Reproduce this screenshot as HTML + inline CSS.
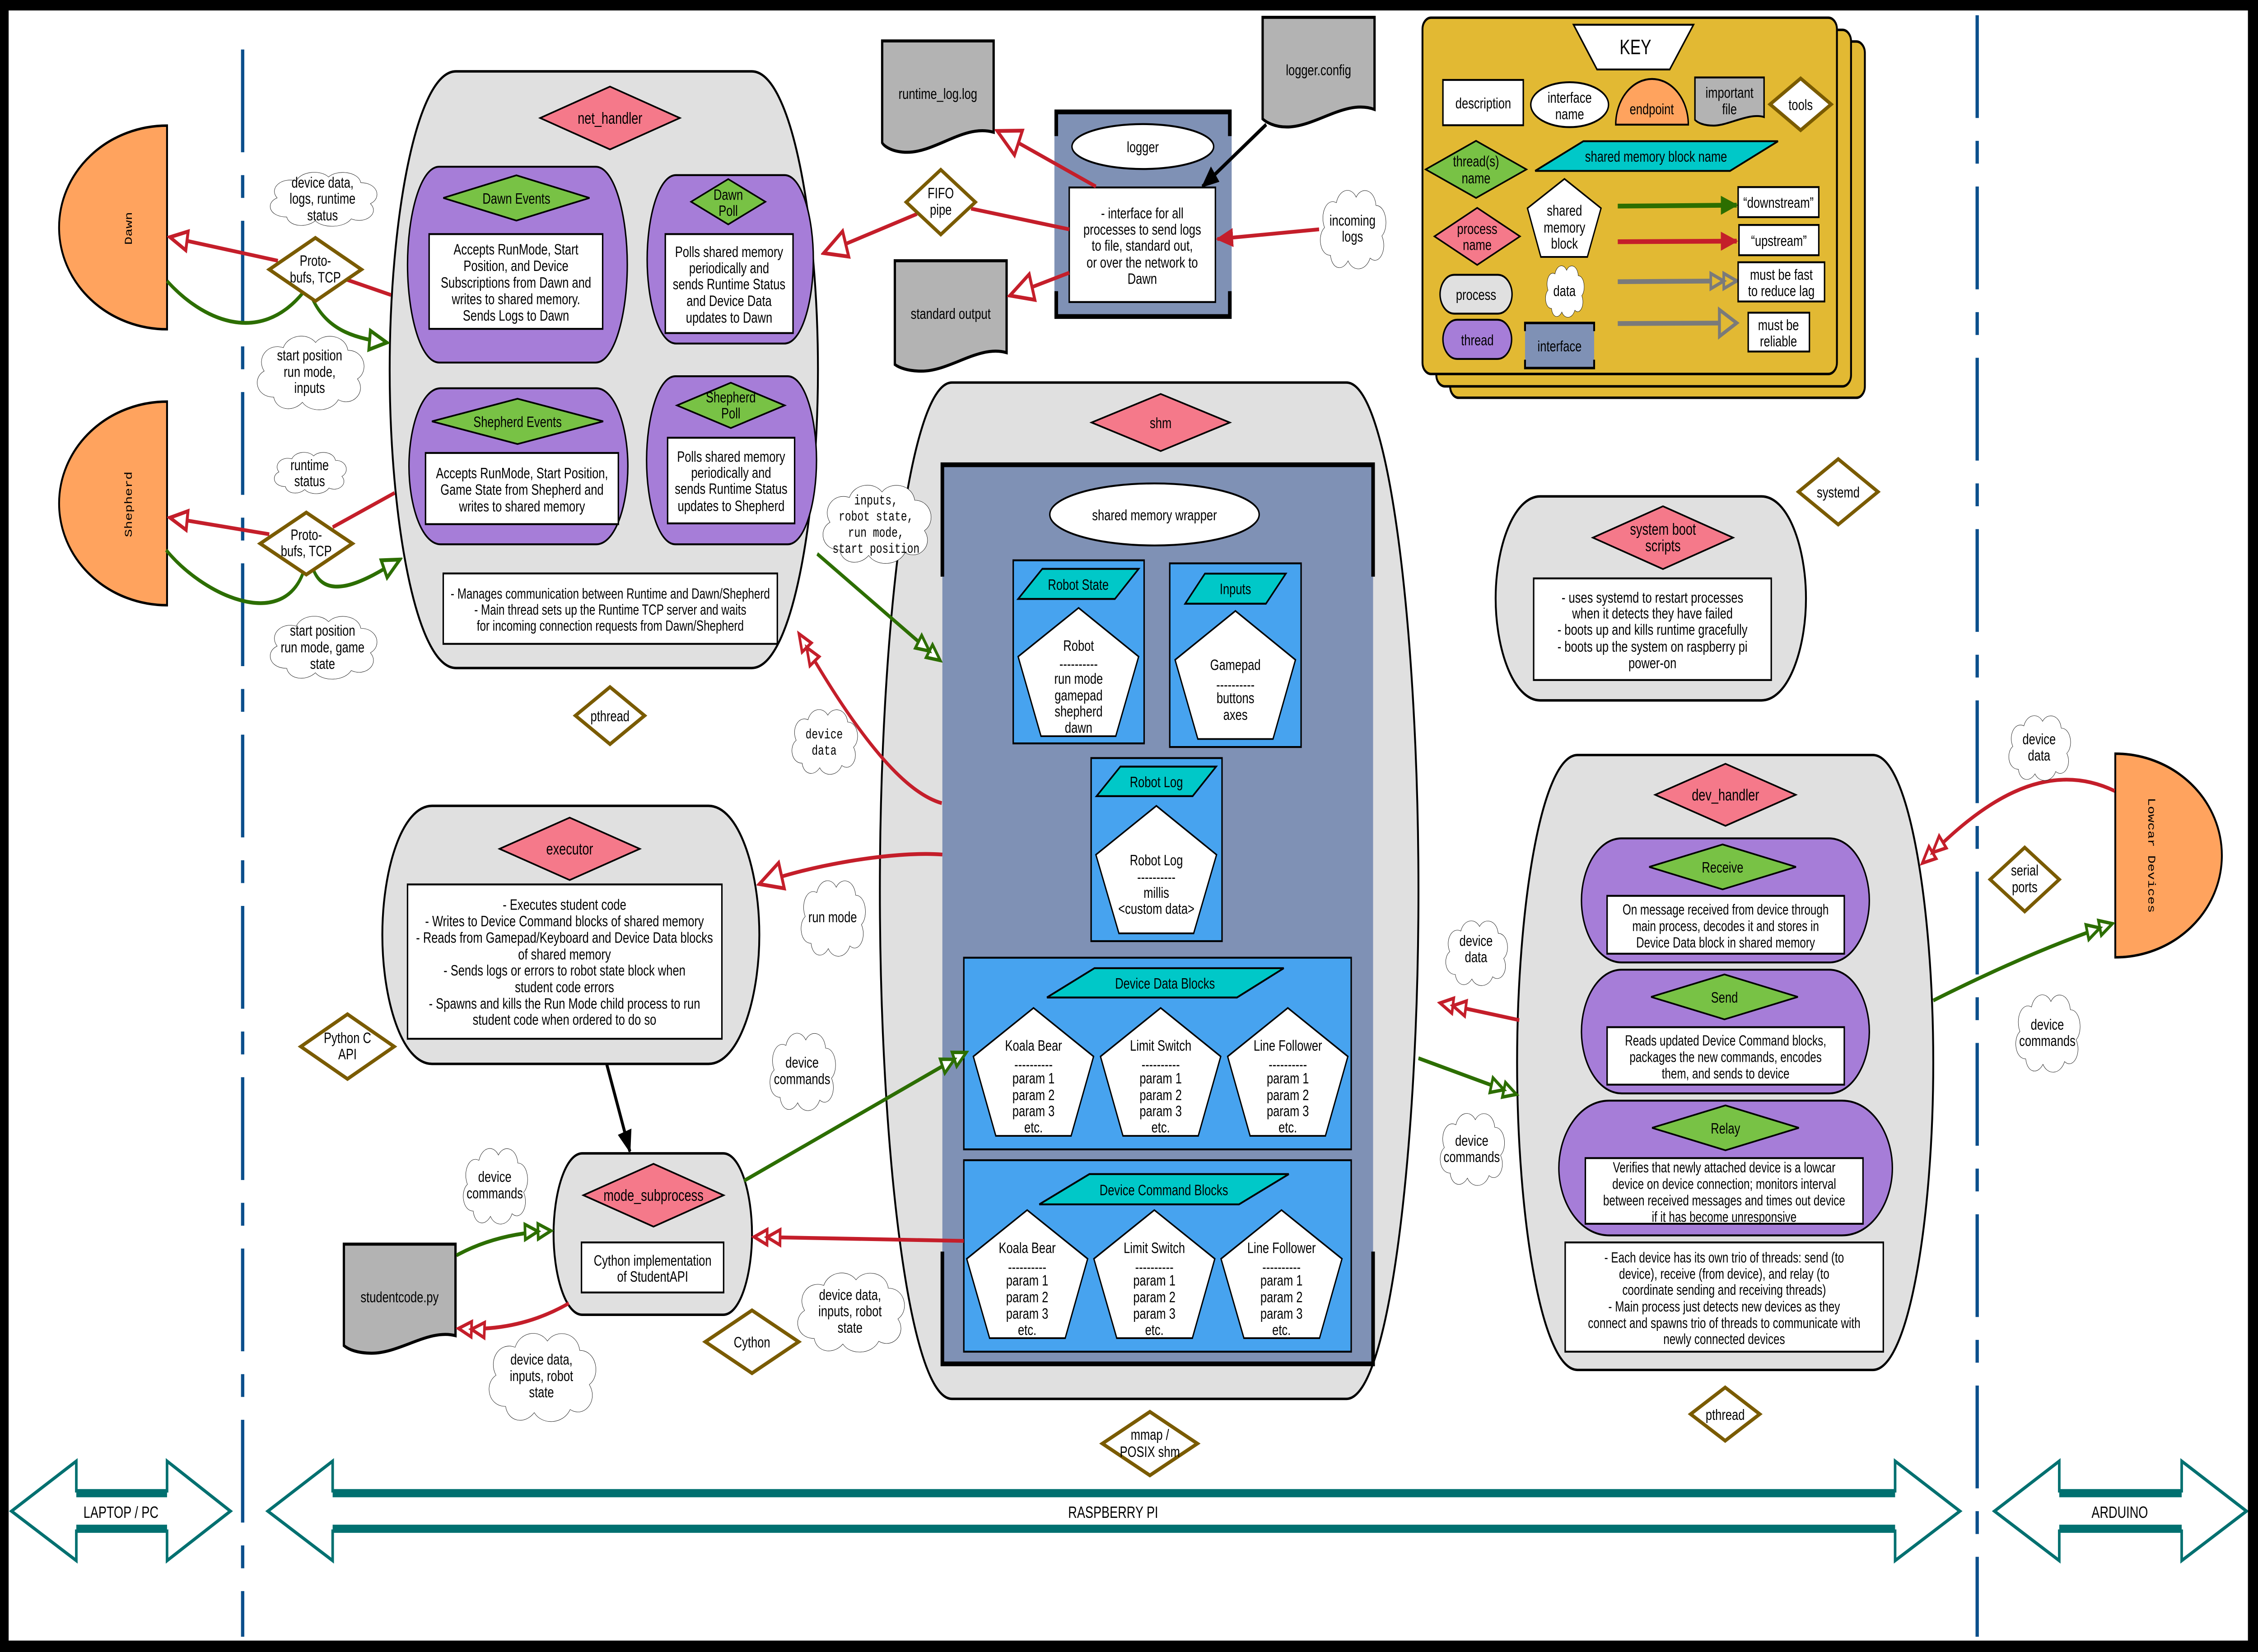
<!DOCTYPE html>
<html><head><meta charset="utf-8">
<style>
html,body{margin:0;padding:0;background:#fff;width:100%;height:100%;overflow:hidden}
svg{display:block;position:fixed;left:0;top:0;width:100%;height:100%}
text{font-family:"Liberation Sans",sans-serif;font-size:8px;text-anchor:middle;fill:#000}
.m{font-family:"Liberation Mono",monospace;font-size:7.2px}
.h{font-size:8.5px}
.d{fill:#fff;stroke:#7a5b00;stroke-width:2}
.pr{fill:#e0e0e0;stroke:#000;stroke-width:1.3}
.th{fill:#a67dd8;stroke:#000;stroke-width:1}
.pk{fill:#f5798a;stroke:#000;stroke-width:0.9}
.gd{fill:#78c245;stroke:#000;stroke-width:0.9}
.bx{fill:#fff;stroke:#000;stroke-width:1}
.bl{fill:#47a3ef;stroke:#000;stroke-width:1}
.cy{fill:#00c8c8;stroke:#000;stroke-width:1}
.pe{fill:#fff;stroke:#000;stroke-width:0.9}
.fl{fill:#b3b3b3;stroke:#000;stroke-width:1.6}
.rd{fill:none;stroke:#c41e2a;stroke-width:2}
.gr{fill:none;stroke:#2c6e00;stroke-width:2}
.bk{fill:none;stroke:#000;stroke-width:2}
.br{fill:none;stroke:#000;stroke-width:2.5}
</style></head>
<body>
<svg xmlns="http://www.w3.org/2000/svg" xmlns:xlink="http://www.w3.org/1999/xlink" viewBox="0 0 1568 868" preserveAspectRatio="none">
<defs>
<path id="cl" d="M20,50 C5,50 2,35 12,30 C5,20 15,8 28,12 C32,2 48,0 55,8 C62,0 80,2 82,14 C96,14 100,30 90,36 C98,46 86,58 74,52 C68,62 50,62 44,54 C36,62 22,60 20,50 Z" fill="#fff" stroke="#000" stroke-width="0.8" vector-effect="non-scaling-stroke"/>
<marker id="hR" markerUnits="userSpaceOnUse" markerWidth="16" markerHeight="14" refX="14" refY="7" orient="auto" viewBox="0 0 16 14"><path d="M2,2 L14,7 L2,12 Z" fill="#fff" stroke="#c41e2a" stroke-width="2"/></marker>
<marker id="hRb" markerUnits="userSpaceOnUse" markerWidth="20" markerHeight="18" refX="18" refY="9" orient="auto" viewBox="0 0 20 18"><path d="M2,2 L18,9 L2,16 Z" fill="#fff" stroke="#c41e2a" stroke-width="2"/></marker>
<marker id="hG" markerUnits="userSpaceOnUse" markerWidth="16" markerHeight="14" refX="14" refY="7" orient="auto" viewBox="0 0 16 14"><path d="M2,2 L14,7 L2,12 Z" fill="#fff" stroke="#2c6e00" stroke-width="2"/></marker>
<marker id="dR" markerUnits="userSpaceOnUse" markerWidth="22" markerHeight="12" refX="20" refY="6" orient="auto" viewBox="0 0 22 12"><path d="M2,2 L11,6 L2,10 Z M11,2 L20,6 L11,10 Z" fill="#fff" stroke="#c41e2a" stroke-width="1.8"/></marker>
<marker id="dG" markerUnits="userSpaceOnUse" markerWidth="22" markerHeight="12" refX="20" refY="6" orient="auto" viewBox="0 0 22 12"><path d="M2,2 L11,6 L2,10 Z M11,2 L20,6 L11,10 Z" fill="#fff" stroke="#2c6e00" stroke-width="1.8"/></marker>
<marker id="dY" markerUnits="userSpaceOnUse" markerWidth="22" markerHeight="12" refX="20" refY="6" orient="auto" viewBox="0 0 22 12"><path d="M2,2 L11,6 L2,10 Z M11,2 L20,6 L11,10 Z" fill="#e2b933" stroke="#7a7a7a" stroke-width="1.8"/></marker>
<marker id="hY" markerUnits="userSpaceOnUse" markerWidth="16" markerHeight="18" refX="14" refY="9" orient="auto" viewBox="0 0 16 18"><path d="M2,2 L14,9 L2,16 Z" fill="#e2b933" stroke="#7a7a7a" stroke-width="2"/></marker>
<marker id="fR" markerUnits="userSpaceOnUse" markerWidth="12" markerHeight="10" refX="11" refY="5" orient="auto" viewBox="0 0 12 10"><path d="M0,0 L12,5 L0,10 Z" fill="#c41e2a"/></marker>
<marker id="fG" markerUnits="userSpaceOnUse" markerWidth="12" markerHeight="10" refX="11" refY="5" orient="auto" viewBox="0 0 12 10"><path d="M0,0 L12,5 L0,10 Z" fill="#2c6e00"/></marker>
<marker id="fK" markerUnits="userSpaceOnUse" markerWidth="12" markerHeight="10" refX="11" refY="5" orient="auto" viewBox="0 0 12 10"><path d="M0,0 L12,5 L0,10 Z" fill="#000"/></marker>
</defs>

<rect x="0" y="0" width="1568" height="868" fill="#fff"/>

<line x1="168.5" y1="26" x2="168.5" y2="860" stroke="#0b4f8c" stroke-width="2.3" stroke-dasharray="54,12,12,12"/>
<line x1="1373" y1="8" x2="1373" y2="860" stroke="#0b4f8c" stroke-width="2.3" stroke-dasharray="54,12,12,12"/>

<!-- KEY -->
<rect x="1007" y="21.8" width="288" height="187.2" rx="6" fill="#e2b933" stroke="#000" stroke-width="1.3"/>
<rect x="997.4" y="15.7" width="288" height="187.3" rx="6" fill="#e2b933" stroke="#000" stroke-width="1.3"/>
<rect x="987.8" y="9.3" width="287.8" height="187.2" rx="6" fill="#e2b933" stroke="#000" stroke-width="1.3"/>
<polygon points="1092.7,13 1176,13 1159.5,36.5 1109,36.5" fill="#fff" stroke="#000" stroke-width="1"/>
<text x="1135.7" y="28.5" style="font-size:11px">KEY</text>
<rect x="1002" y="42" width="55.8" height="23.8" class="bx"/>
<text x="1030" y="57">description</text>
<ellipse cx="1090" cy="55" rx="27" ry="11.8" class="bx"/>
<text x="1090" y="54">interface</text><text x="1090" y="62.7">name</text>
<path d="M1122,65.5 A25.2,24 0 0 1 1172.4,65.5 Z" fill="#ffa35e" stroke="#000" stroke-width="1"/>
<text x="1147" y="60">endpoint</text>
<path d="M1177,40.7 H1225 V61.5 C1215,59 1200,66 1190,66 C1183,66 1179,64.5 1177,63 Z" class="fl" style="stroke-width:1"/>
<text x="1201" y="51.4">important</text><text x="1201" y="60">file</text>
<polygon points="1229.2,54.8 1250.4,41.2 1271.6,54.8 1250.4,68.4" class="d"/>
<text x="1250.4" y="57.8">tools</text>
<polygon points="990,89 1025,74 1060,89 1025,104" class="gd"/>
<text x="1025" y="87.4">thread(s)</text><text x="1025" y="96.3">name</text>
<polygon points="1066,89.8 1099.5,74.2 1234.7,74.2 1201.4,89.8" class="cy"/>
<text x="1150" y="85">shared memory block name</text>
<polygon points="996.1,124.2 1025.8,109.2 1055.5,124.2 1025.8,139.2" class="pk"/>
<text x="1025.8" y="122.9">process</text><text x="1025.8" y="131.4">name</text>
<polygon points="1086.4,94 1111.8,109.4 1102.3,135 1070,135 1060.7,109.4" class="pe"/>
<text x="1086.4" y="113.3">shared</text><text x="1086.4" y="122.2">memory</text><text x="1086.4" y="130.6">block</text>
<path d="M1010,144.4 H1040 C1046,144.4 1050,149.5 1050,154.6 C1050,159.7 1046,164.8 1040,164.8 H1010 C1004,164.8 1000,159.7 1000,154.6 C1000,149.5 1004,144.4 1010,144.4Z" class="pr" style="stroke-width:1"/>
<text x="1025" y="157.6">process</text>
<use xlink:href="#cl" transform="translate(1071.4,138.2) scale(0.3,0.477)"/>
<text x="1086.4" y="155.5">data</text>
<path d="M1012,168 H1039.7 C1045.7,168 1049.7,173.15 1049.7,178.3 C1049.7,183.45 1045.7,188.6 1039.7,188.6 H1012 C1006,188.6 1002,183.45 1002,178.3 C1002,173.15 1006,168 1012,168Z" class="th"/>
<text x="1025.9" y="181.4">thread</text>
<rect x="1059" y="169.7" width="48" height="23.7" fill="#7f91b5"/>
<path d="M1059,174 V169.7 H1107 V174 M1059,189 V193.4 H1107 V189" fill="none" stroke="#000" stroke-width="1.3"/>
<text x="1083" y="184.6">interface</text>
<line x1="1123.4" y1="108.3" x2="1206" y2="107.8" stroke="#2c6e00" stroke-width="2.5" marker-end="url(#fG)"/>
<line x1="1123.4" y1="127" x2="1206" y2="126.7" stroke="#c41e2a" stroke-width="2.5" marker-end="url(#fR)"/>
<line x1="1123.4" y1="148" x2="1206" y2="147.6" stroke="#7a7a7a" stroke-width="2.5" marker-end="url(#dY)"/>
<line x1="1123.4" y1="170" x2="1206" y2="169.7" stroke="#7a7a7a" stroke-width="2.5" marker-end="url(#hY)"/>
<rect x="1207" y="98.3" width="56" height="15.8" class="bx"/><text x="1235" y="109.2">“downstream”</text>
<rect x="1207.6" y="118.2" width="55.4" height="15.9" class="bx"/><text x="1235.3" y="129.2">“upstream”</text>
<rect x="1207" y="137.8" width="60" height="20.6" class="bx"/><text x="1237" y="147">must be fast</text><text x="1237" y="155.5">to reduce lag</text>
<rect x="1214" y="164.3" width="42.5" height="20.4" class="bx"/><text x="1235" y="173.5">must be</text><text x="1235" y="182">reliable</text>

<!-- Dawn / Shepherd -->
<path d="M116,66 A75,53.5 0 0 0 116,173 Z" fill="#ffa35e" stroke="#000" stroke-width="1.3"/>
<text class="m" transform="translate(89,120) rotate(-90)" y="2.5">Dawn</text>
<path d="M116,211 A75,53.5 0 0 0 116,318 Z" fill="#ffa35e" stroke="#000" stroke-width="1.3"/>
<text class="m" transform="translate(89,265) rotate(-90)" y="2.5">Shepherd</text>

<!-- net_handler -->
<path d="M316.6,37.5 H522 C549.6,37.5 568,115.9 568,194.25 C568,272.6 549.6,351 522,351 H316.6 C289,351 270.6,272.6 270.6,194.25 C270.6,115.9 289,37.5 316.6,37.5 Z" class="pr"/>
<polygon points="375.1,62 423.6,45.5 472.1,62 423.6,78.5" class="pk"/>
<text x="423.6" y="65" class="h">net_handler</text>
<path d="M305,87.6 H413.6 C426.8,87.6 435.6,113.3 435.6,139.05 C435.6,164.8 426.8,190.5 413.6,190.5 H305 C291.8,190.5 283,164.8 283,139.05 C283,113.3 291.8,87.6 305,87.6Z" class="th"/>
<polygon points="307.8,104 358.6,92.1 409.4,104 358.6,115.9" class="gd"/>
<text x="358.6" y="107">Dawn Events</text>
<rect x="298" y="123" width="120.5" height="49.8" class="bx"/>
<text x="358.3" y="133.7">Accepts RunMode, Start</text>
<text x="358.3" y="142.4">Position, and Device</text>
<text x="358.3" y="151.1">Subscriptions from Dawn and</text>
<text x="358.3" y="159.8">writes to shared memory.</text>
<text x="358.3" y="168.5">Sends Logs to Dawn</text>
<path d="M469.4,92 H544.8 C556.8,92 564.8,114.1 564.8,136.25 C564.8,158.4 556.8,180.5 544.8,180.5 H469.4 C457.4,180.5 449.4,158.4 449.4,136.25 C449.4,114.1 457.4,92 469.4,92Z" class="th"/>
<polygon points="479.9,106 505.7,94.1 531.5,106 505.7,117.9" class="gd"/>
<text x="505.7" y="105">Dawn</text><text x="505.7" y="113.4">Poll</text>
<rect x="462" y="123" width="88.7" height="52" class="bx"/>
<text x="506.3" y="135">Polls shared memory</text>
<text x="506.3" y="143.6">periodically and</text>
<text x="506.3" y="152">sends Runtime Status</text>
<text x="506.3" y="160.8">and Device Data</text>
<text x="506.3" y="169.5">updates to Dawn</text>
<path d="M306,204 H414 C427.2,204 436,224.5 436,245 C436,265.5 427.2,286 414,286 H306 C292.8,286 284,265.5 284,245 C284,224.5 292.8,204 306,204Z" class="th"/>
<polygon points="299.9,221.4 359.4,209.5 418.9,221.4 359.4,233.3" class="gd"/>
<text x="359.4" y="224.4">Shepherd Events</text>
<rect x="295.5" y="238" width="133.9" height="37.4" class="bx"/>
<text x="362.5" y="251.3">Accepts RunMode, Start Position,</text>
<text x="362.5" y="260">Game State from Shepherd and</text>
<text x="362.5" y="268.7">writes to shared memory</text>
<path d="M469,197.7 H547 C559,197.7 567,219.8 567,241.85 C567,263.9 559,286 547,286 H469 C457,286 449,263.9 449,241.85 C449,219.8 457,197.7 469,197.7Z" class="th"/>
<polygon points="470.1,213 507.5,201.1 544.9,213 507.5,224.9" class="gd"/>
<text x="507.5" y="211.4">Shepherd</text><text x="507.5" y="219.8">Poll</text>
<rect x="463.6" y="230" width="88.2" height="45" class="bx"/>
<text x="507.7" y="242.6">Polls shared memory</text>
<text x="507.7" y="251">periodically and</text>
<text x="507.7" y="259.5">sends Runtime Status</text>
<text x="507.7" y="268.5">updates to Shepherd</text>
<rect x="307.8" y="301.3" width="232" height="37" class="bx"/>
<text x="423.8" y="314.5" style="font-size:7.6px">- Manages communication between Runtime and Dawn/Shepherd</text>
<text x="423.8" y="323" style="font-size:7.6px">- Main thread sets up the Runtime TCP server and waits</text>
<text x="423.8" y="331.4" style="font-size:7.6px">for incoming connection requests from Dawn/Shepherd</text>

<path d="M271.5,155 L241,147" class="rd"/>
<path d="M193,137 L118,124.6" class="rd" marker-end="url(#hR)"/>
<path d="M116,147.6 C140,168 180,182 210.5,153.7" class="gr"/>
<path d="M217,157 C228,175 250,178 268.6,180" class="gr" marker-end="url(#hG)"/>
<path d="M274,259 L231,277" class="rd"/>
<path d="M187,280.7 L118,272" class="rd" marker-end="url(#hR)"/>
<path d="M115.4,289 C140,312 195,332 210.5,301" class="gr"/>
<path d="M218,300 C228,318 260,302 277.7,294" class="gr" marker-end="url(#hG)"/>
<polygon points="187,141.6 219,125 251,141.6 219,158.2" class="d"/>
<text x="219" y="139.7">Proto-</text><text x="219" y="148.4">bufs, TCP</text>
<polygon points="180.7,285.6 212.7,269.3 244.7,285.6 212.7,301.9" class="d"/>
<text x="212.7" y="283.7">Proto-</text><text x="212.7" y="292.2">bufs, TCP</text>

<use xlink:href="#cl" transform="translate(182.5,89) scale(0.83,0.5)"/>
<text x="224" y="98.6">device data,</text><text x="224" y="107">logs, runtime</text><text x="224" y="115.8">status</text>
<use xlink:href="#cl" transform="translate(173.5,174.5) scale(0.83,0.683)"/>
<text x="215" y="189.4">start position</text><text x="215" y="198">run mode,</text><text x="215" y="206.5">inputs</text>
<use xlink:href="#cl" transform="translate(187,236.5) scale(0.56,0.383)"/>
<text x="215" y="247">runtime</text><text x="215" y="255.5">status</text>
<use xlink:href="#cl" transform="translate(182.5,322) scale(0.83,0.583)"/>
<text x="224" y="334">start position</text><text x="224" y="342.8">run mode, game</text><text x="224" y="351.4">state</text>

<polygon points="399.6,376 423.6,361 447.6,376 423.6,391" class="d"/>
<text x="423.6" y="379">pthread</text>

<!-- logger -->
<path d="M612.6,21.5 H690 V69.5 C670,65 650,80 630,80 C620,80 614,77 612.6,75 Z" class="fl"/>
<text x="651.3" y="52">runtime_log.log</text>
<path d="M876.8,9.1 H954.5 V57.5 C935,52 915,66 895,66.7 C885,67 879,64 876.8,62.5 Z" class="fl"/>
<text x="915.6" y="39.5">logger.config</text>
<path d="M621.4,137 H699 V185.3 C680,181 660,195 640,195 C630,195 624,193 621.4,191.5 Z" class="fl"/>
<text x="660.2" y="167.5">standard output</text>
<rect x="732.2" y="57.6" width="123.1" height="109.9" fill="#7f91b5"/>
<path d="M733.5,71.5 V58.8 H854 V71.5 M733.5,153 V166.3 H854 V153" class="br"/>
<ellipse cx="793.6" cy="77" rx="49.2" ry="11.8" class="bx"/>
<text x="793.6" y="80">logger</text>
<rect x="742.5" y="98.5" width="101.5" height="60.2" class="bx"/>
<text x="793.2" y="114.7">- interface for all</text>
<text x="793.2" y="123.3">processes to send logs</text>
<text x="793.2" y="131.7">to file, standard out,</text>
<text x="793.2" y="140.6">or over the network to</text>
<text x="793.2" y="149.1">Dawn</text>
<path d="M761,98 L692.5,68.8" class="rd" marker-end="url(#hRb)"/>
<path d="M742.5,120.5 L674.3,109.6" class="rd"/>
<path d="M636.8,112.4 L572,133" class="rd" marker-end="url(#hRb)"/>
<path d="M742.5,143.3 L701.3,155.3" class="rd" marker-end="url(#hRb)"/>
<path d="M879.3,65.4 L835,98" class="bk" marker-end="url(#fK)"/>
<path d="M916,120.5 L845.3,125.6" class="rd" marker-end="url(#fR)"/>
<polygon points="629.3,106.2 653.3,89.2 677.3,106.2 653.3,123.2" class="d"/>
<text x="653.3" y="104.2">FIFO</text><text x="653.3" y="112.8">pipe</text>
<use xlink:href="#cl" transform="translate(913.7,97.8) scale(0.51,0.727)"/>
<text x="939.2" y="118.5">incoming</text><text x="939.2" y="127">logs</text>

<!-- shm -->
<path d="M661,201 H935 C965,201 985,334.5 985,468 C985,601.5 965,735 935,735 H661 C631,735 611,601.5 611,468 C611,334.5 631,201 661,201Z" class="pr"/>
<polygon points="758,222 806,207 854,222 806,237" class="pk"/>
<text x="806" y="225">shm</text>
<rect x="654.4" y="244.2" width="299.1" height="472.4" fill="#7f91b5"/>
<path d="M654.4,303 V244.2 H953.5 V303 M654.4,657.6 V716.6 H953.5 V657.6" class="br"/>
<ellipse cx="801.7" cy="270.3" rx="72.7" ry="16.3" class="bx"/>
<text x="801.7" y="273.3">shared memory wrapper</text>

<rect x="703.6" y="294.4" width="90.9" height="96.2" class="bl"/>
<polygon points="707,314.7 723.8,298.9 790.7,298.9 774.2,314.7" class="cy"/>
<text x="748.8" y="309.9">Robot State</text>
<polygon points="749,319.4 790.7,345 774.8,386.8 722.9,386.8 707,345" class="pe"/>
<text x="749" y="341.9">Robot</text><text x="749" y="351.5">----------</text><text x="749" y="359.3">run mode</text><text x="749" y="368">gamepad</text><text x="749" y="376.5">shepherd</text><text x="749" y="385">dawn</text>

<rect x="812.3" y="296" width="91.2" height="96.5" class="bl"/>
<polygon points="823,317.2 836.7,301.4 892.9,301.4 879.1,317.2" class="cy"/>
<text x="857.9" y="312.2">Inputs</text>
<polygon points="857.9,321 899.6,346.7 884,388.3 831.8,388.3 816,346.7" class="pe"/>
<text x="857.9" y="352">Gamepad</text><text x="857.9" y="362.5">----------</text><text x="857.9" y="369.5">buttons</text><text x="857.9" y="378.2">axes</text>

<rect x="757.7" y="398.3" width="90.9" height="96.2" class="bl"/>
<polygon points="761.5,418.3 778,402.8 844.5,402.8 828.2,418.3" class="cy"/>
<text x="803" y="413.6">Robot Log</text>
<polygon points="803,423.4 844.8,449.1 828.9,490.4 777,490.4 761,449.1" class="pe"/>
<text x="803" y="454.6">Robot Log</text><text x="803" y="463.5">----------</text><text x="803" y="471.7">millis</text><text x="803" y="480.2">&lt;custom data&gt;</text>

<rect x="669.3" y="503.2" width="269" height="100.7" class="bl"/>
<polygon points="727,524.1 760,508.7 891.5,508.7 859,524.1" class="cy"/>
<text x="809" y="519.4">Device Data Blocks</text>
<polygon points="717.7,529.6 759.4,555.1 743.8,596.8 691.5,596.8 675.9,555.1" class="pe"/>
<polygon points="806,529.6 847.7,555.1 832.1,596.8 779.8,596.8 764.2,555.1" class="pe"/>
<polygon points="894.3,529.6 936,555.1 920.4,596.8 868.1,596.8 852.5,555.1" class="pe"/>
<text x="717.7" y="552">Koala Bear</text><text x="717.7" y="562">----------</text><text x="717.7" y="569.2">param 1</text><text x="717.7" y="578">param 2</text><text x="717.7" y="586.5">param 3</text><text x="717.7" y="595">etc.</text>
<text x="806" y="552">Limit Switch</text><text x="806" y="562">----------</text><text x="806" y="569.2">param 1</text><text x="806" y="578">param 2</text><text x="806" y="586.5">param 3</text><text x="806" y="595">etc.</text>
<text x="894.3" y="552">Line Follower</text><text x="894.3" y="562">----------</text><text x="894.3" y="569.2">param 1</text><text x="894.3" y="578">param 2</text><text x="894.3" y="586.5">param 3</text><text x="894.3" y="595">etc.</text>

<rect x="669.3" y="609.6" width="269" height="100.6" class="bl"/>
<polygon points="721.7,632.8 756.5,616.9 895,616.9 860.4,632.8" class="cy"/>
<text x="808.2" y="628">Device Command Blocks</text>
<polygon points="713.3,635.8 755.3,661.4 739.7,703.1 687.2,703.1 671.3,661.4" class="pe"/>
<polygon points="801.6,635.8 843.6,661.4 828,703.1 775.5,703.1 759.6,661.4" class="pe"/>
<polygon points="889.9,635.8 931.9,661.4 916.3,703.1 863.8,703.1 847.9,661.4" class="pe"/>
<text x="713.3" y="658.3">Koala Bear</text><text x="713.3" y="668.5">----------</text><text x="713.3" y="675.4">param 1</text><text x="713.3" y="684.2">param 2</text><text x="713.3" y="692.9">param 3</text><text x="713.3" y="701.4">etc.</text>
<text x="801.6" y="658.3">Limit Switch</text><text x="801.6" y="668.5">----------</text><text x="801.6" y="675.4">param 1</text><text x="801.6" y="684.2">param 2</text><text x="801.6" y="692.9">param 3</text><text x="801.6" y="701.4">etc.</text>
<text x="889.9" y="658.3">Line Follower</text><text x="889.9" y="668.5">----------</text><text x="889.9" y="675.4">param 1</text><text x="889.9" y="684.2">param 2</text><text x="889.9" y="692.9">param 3</text><text x="889.9" y="701.4">etc.</text>

<polygon points="765.5,758.5 798.5,741.8 831.5,758.5 798.5,775.2" class="d"/>
<text x="798.5" y="756.5">mmap /</text><text x="798.5" y="765.5">POSIX shm</text>

<!-- executor -->
<path d="M300,423.4 H492 C513,423.4 527.3,457.3 527.3,491.2 C527.3,525.1 513,559 492,559 H300 C279,559 265.5,525.1 265.5,491.2 C265.5,457.3 279,423.4 300,423.4Z" class="pr"/>
<polygon points="346.9,446 395.6,429.6 444.3,446 395.6,462.4" class="pk"/>
<text x="395.6" y="449" class="h">executor</text>
<rect x="283" y="464.7" width="218.3" height="81.1" class="bx"/>
<text x="392" y="478">- Executes student code</text>
<text x="392" y="486.7">- Writes to Device Command blocks of shared memory</text>
<text x="392" y="495.4">- Reads from Gamepad/Keyboard and Device Data blocks</text>
<text x="392" y="504.1">of shared memory</text>
<text x="392" y="512.6">- Sends logs or errors to robot state block when</text>
<text x="392" y="521.3">student code errors</text>
<text x="392" y="530">- Spawns and kills the Run Mode child process to run</text>
<text x="392" y="538.4">student code when ordered to do so</text>
<polygon points="208.9,549.9 241.3,532.9 273.7,549.9 241.3,566.9" class="d"/>
<text x="241.3" y="548">Python C</text><text x="241.3" y="556.6">API</text>

<!-- mode_subprocess -->
<path d="M404.4,606 H502.2 C514.2,606 522.2,627.2 522.2,648.4 C522.2,669.6 514.2,690.8 502.2,690.8 H404.4 C392.4,690.8 384.4,669.6 384.4,648.4 C384.4,627.2 392.4,606 404.4,606Z" class="pr"/>
<polygon points="405.1,628 453.8,611.5 502.5,628 453.8,644.5" class="pk"/>
<text x="453.8" y="631" class="h">mode_subprocess</text>
<rect x="403.8" y="652.8" width="98.7" height="26.3" class="bx"/>
<text x="453.2" y="665">Cython implementation</text><text x="453.2" y="673.4">of StudentAPI</text>
<path d="M238.8,653.7 H316.3 V701.8 C298,698 278,711 258,711 C248,711 242,709 238.8,707 Z" class="fl"/>
<text x="277.5" y="684.2">studentcode.py</text>
<polygon points="489.8,705 522.2,688.5 554.6,705 522.2,721.5" class="d"/>
<text x="522.2" y="708">Cython</text>

<path d="M567.5,291 L652.9,347" class="gr" marker-end="url(#dG)"/>
<path d="M654,422 C635,418 605,400 554.8,333" class="rd" marker-end="url(#dR)"/>
<path d="M654.4,449 C620,447 560,455 527.3,464.5" class="rd" marker-end="url(#hRb)"/>
<path d="M516.7,620.4 L671,553" class="gr" marker-end="url(#dG)"/>
<path d="M669.3,652 L523.7,649.9" class="rd" marker-end="url(#dR)"/>
<path d="M421.4,559.4 L437.4,605" class="bk" marker-end="url(#fK)"/>
<path d="M317,659.6 Q345,648 382.6,646.7" class="gr" marker-end="url(#dG)"/>
<path d="M395,684.8 Q360,700 318.4,698" class="rd" marker-end="url(#dR)"/>

<use xlink:href="#cl" transform="translate(566.3,252.7) scale(0.84,0.725)"/>
<text class="m" x="608.3" y="265">inputs,</text><text class="m" x="608.3" y="273.5">robot state,</text><text class="m" x="608.3" y="282">run mode,</text><text class="m" x="608.3" y="290.5">start position</text>
<use xlink:href="#cl" transform="translate(546.8,371) scale(0.51,0.6)"/>
<text class="m" x="572.3" y="388">device</text><text class="m" x="572.3" y="396.5">data</text>
<use xlink:href="#cl" transform="translate(553.2,460.6) scale(0.5,0.7)"/>
<text x="578.2" y="484.6">run mode</text>
<use xlink:href="#cl" transform="translate(531.5,540.7) scale(0.51,0.717)"/>
<text x="557" y="561">device</text><text x="557" y="569.6">commands</text>
<use xlink:href="#cl" transform="translate(318.6,601.3) scale(0.5,0.7)"/>
<text x="343.6" y="621">device</text><text x="343.6" y="629.6">commands</text>
<use xlink:href="#cl" transform="translate(334.5,698.1) scale(0.83,0.817)"/>
<text x="376" y="717">device data,</text><text x="376" y="725.6">inputs, robot</text><text x="376" y="734.2">state</text>
<use xlink:href="#cl" transform="translate(548.8,666.6) scale(0.83,0.733)"/>
<text x="590.3" y="683">device data,</text><text x="590.3" y="691.6">inputs, robot</text><text x="590.3" y="700.2">state</text>

<!-- system boot scripts -->
<polygon points="1248.9,258.4 1276.5,241.2 1304.1,258.4 1276.5,275.6" class="d"/>
<text x="1276.5" y="261.4">systemd</text>
<path d="M1069.6,260.8 H1223.1 C1241.7,260.8 1254.1,287.6 1254.1,314.4 C1254.1,341.2 1241.7,368 1223.1,368 H1069.6 C1051,368 1038.6,341.2 1038.6,314.4 C1038.6,287.6 1051,260.8 1069.6,260.8Z" class="pr"/>
<polygon points="1106.1,282.5 1154.8,266 1203.5,282.5 1154.8,299" class="pk"/>
<text x="1154.8" y="281" class="h">system boot</text><text x="1154.8" y="289.6" class="h">scripts</text>
<rect x="1065" y="303.9" width="165" height="53.4" class="bx"/>
<text x="1147.5" y="316.7">- uses systemd to restart processes</text>
<text x="1147.5" y="325">when it detects they have failed</text>
<text x="1147.5" y="333.5">- boots up and kills runtime gracefully</text>
<text x="1147.5" y="342.4">- boots up the system on raspberry pi</text>
<text x="1147.5" y="351.1">power-on</text>

<!-- dev_handler -->
<path d="M1095.5,396.7 H1300.5 C1325.7,396.7 1342.5,477.5 1342.5,558.25 C1342.5,639 1325.7,719.8 1300.5,719.8 H1095.5 C1070.3,719.8 1053.5,639 1053.5,558.25 C1053.5,477.5 1070.3,396.7 1095.5,396.7Z" class="pr"/>
<polygon points="1149.4,417.6 1198.2,401.3 1247,417.6 1198.2,433.9" class="pk"/>
<text x="1198.2" y="420.6" class="h">dev_handler</text>
<path d="M1126.2,440.5 H1270.1 C1286.9,440.5 1298.1,456.8 1298.1,473.1 C1298.1,489.4 1286.9,505.7 1270.1,505.7 H1126.2 C1109.4,505.7 1098.2,489.4 1098.2,473.1 C1098.2,456.8 1109.4,440.5 1126.2,440.5Z" class="th"/>
<polygon points="1145.2,455.5 1196.2,443.7 1247.2,455.5 1196.2,467.3" class="gd"/>
<text x="1196.2" y="458.5">Receive</text>
<rect x="1116" y="470.7" width="164.7" height="30.4" class="bx"/>
<text x="1198.3" y="480.5" style="font-size:7.6px">On message received from device through</text>
<text x="1198.3" y="489.2" style="font-size:7.6px">main process, decodes it and stores in</text>
<text x="1198.3" y="497.8" style="font-size:7.6px">Device Data block in shared memory</text>
<path d="M1126.2,509.5 H1270.1 C1286.9,509.5 1298.1,525.75 1298.1,542 C1298.1,558.25 1286.9,574.5 1270.1,574.5 H1126.2 C1109.4,574.5 1098.2,558.25 1098.2,542 C1098.2,525.75 1109.4,509.5 1126.2,509.5Z" class="th"/>
<polygon points="1146.5,523.8 1197.5,512 1248.5,523.8 1197.5,535.6" class="gd"/>
<text x="1197.5" y="526.8">Send</text>
<rect x="1116" y="539.7" width="164.7" height="30.2" class="bx"/>
<text x="1198.3" y="549.3" style="font-size:7.6px">Reads updated Device Command blocks,</text>
<text x="1198.3" y="558" style="font-size:7.6px">packages the new commands, encodes</text>
<text x="1198.3" y="566.6" style="font-size:7.6px">them, and sends to device</text>
<path d="M1117.5,578.3 H1279.1 C1300.1,578.3 1314.1,596 1314.1,613.7 C1314.1,631.4 1300.1,649.1 1279.1,649.1 H1117.5 C1096.5,649.1 1082.5,631.4 1082.5,613.7 C1082.5,596 1096.5,578.3 1117.5,578.3Z" class="th"/>
<polygon points="1147.2,592.6 1198.2,580.8 1249.2,592.6 1198.2,604.4" class="gd"/>
<text x="1198.2" y="595.6">Relay</text>
<rect x="1100.9" y="608.5" width="192.8" height="34.5" class="bx"/>
<text x="1197.3" y="616" style="font-size:7.6px">Verifies that newly attached device is a lowcar</text>
<text x="1197.3" y="624.7" style="font-size:7.6px">device on device connection; monitors interval</text>
<text x="1197.3" y="633.3" style="font-size:7.6px">between received messages and times out device</text>
<text x="1197.3" y="642" style="font-size:7.6px">if it has become unresponsive</text>
<rect x="1086.9" y="652.8" width="220.9" height="57.4" class="bx"/>
<text x="1197.3" y="663.3" style="font-size:7.6px">- Each device has its own trio of threads: send (to</text>
<text x="1197.3" y="671.9" style="font-size:7.6px">device), receive (from device), and relay (to</text>
<text x="1197.3" y="680.3" style="font-size:7.6px">coordinate sending and receiving threads)</text>
<text x="1197.3" y="689.1" style="font-size:7.6px">- Main process just detects new devices as they</text>
<text x="1197.3" y="697.8" style="font-size:7.6px">connect and spawns trio of threads to communicate with</text>
<text x="1197.3" y="706.2" style="font-size:7.6px">newly connected devices</text>
<polygon points="1174,743 1198,729 1222,743 1198,757" class="d"/>
<text x="1198" y="746">pthread</text>

<!-- Lowcar -->
<path d="M1468.9,396 A74,53.5 0 0 1 1468.9,503 Z" fill="#ffa35e" stroke="#000" stroke-width="1.3"/>
<text class="m" transform="translate(1494.3,449.4) rotate(90)" y="2.5">Lowcar Devices</text>
<path d="M1468.5,415.6 C1420,398 1375,422 1334.9,453.5" class="rd" marker-end="url(#dR)"/>
<path d="M1342.5,525.7 Q1410,500 1466.9,485.3" class="gr" marker-end="url(#dG)"/>
<polygon points="1382,462.1 1406,445.3 1430,462.1 1406,478.9" class="d"/>
<text x="1406" y="460">serial</text><text x="1406" y="468.8">ports</text>
<use xlink:href="#cl" transform="translate(1392,374.2) scale(0.48,0.6)"/>
<text x="1416" y="391">device</text><text x="1416" y="399.6">data</text>
<use xlink:href="#cl" transform="translate(1396.7,520.5) scale(0.5,0.717)"/>
<text x="1421.7" y="541">device</text><text x="1421.7" y="549.6">commands</text>

<path d="M1055,536 L1000,527" class="rd" marker-end="url(#dR)"/>
<path d="M985,556 L1053,575" class="gr" marker-end="url(#dG)"/>
<use xlink:href="#cl" transform="translate(1001,482) scale(0.48,0.6)"/>
<text x="1025" y="497">device</text><text x="1025" y="505.6">data</text>
<use xlink:href="#cl" transform="translate(997,583) scale(0.5,0.667)"/>
<text x="1022" y="602">device</text><text x="1022" y="610.6">commands</text>

<!-- bottom block arrows -->
<g fill="#fff" stroke="#007070" stroke-width="1.8">
<polygon points="8,794 53,767.7 53,783.3 116,783.3 116,767.7 160,794 116,820 116,804.5 53,804.5 53,820"/>
<polygon points="186,794 231,767.7 231,783.3 1316,783.3 1316,767.7 1361,794 1316,820 1316,804.5 231,804.5 231,820"/>
<polygon points="1385,794 1430,767.7 1430,783.3 1515,783.3 1515,767.7 1560,794 1515,820 1515,804.5 1430,804.5 1430,820"/>
</g>
<g fill="#007070">
<rect x="53" y="783.3" width="63" height="3.4"/><rect x="53" y="801.1" width="63" height="3.4"/>
<rect x="231" y="783.3" width="1085" height="3.4"/><rect x="231" y="801.1" width="1085" height="3.4"/>
<rect x="1430" y="783.3" width="85" height="3.4"/><rect x="1430" y="801.1" width="85" height="3.4"/>
</g>
<text x="84" y="797.5" style="font-size:8.5px">LAPTOP / PC</text>
<text x="773" y="797.5" style="font-size:8.5px">RASPBERRY PI</text>
<text x="1472" y="797.5" style="font-size:8.5px">ARDUINO</text>

<rect x="0" y="0" width="1568" height="5.5" fill="#000"/>
<rect x="0" y="0" width="6" height="868" fill="#000"/>
<rect x="1561" y="0" width="7" height="868" fill="#000"/>
<rect x="0" y="862" width="1568" height="6" fill="#000"/>
</svg>
</body></html>
